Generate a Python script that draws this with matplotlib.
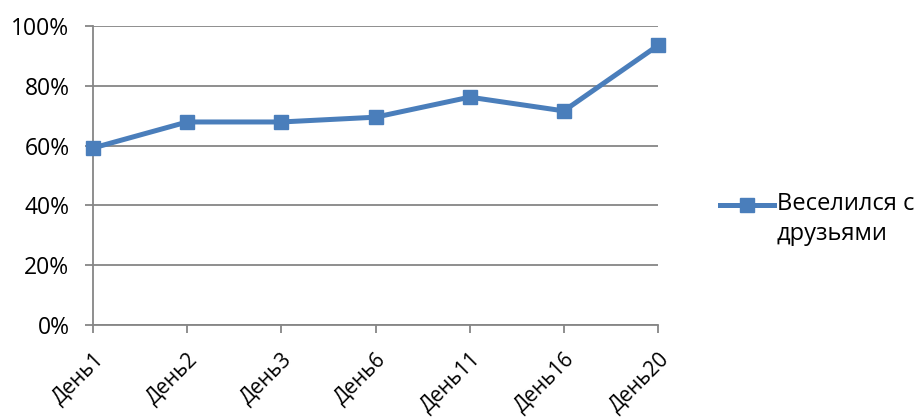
import matplotlib.pyplot as plt
from matplotlib.ticker import PercentFormatter
from matplotlib.transforms import ScaledTranslation

# Dati
giorni = ["День1", "День2", "День3", "День6", "День11", "День16", "День20"]
valori = [59.2, 67.9, 67.9, 69.5, 76.2, 71.6, 93.5]
serie = "Веселился с\nдрузьями"

plt.rcParams['font.family'] = ['Open Sans', 'DejaVu Sans']

fig = plt.figure(figsize=(9.18, 4.19), dpi=100)
ax = fig.add_axes([0.1013, 0.2243, 0.6155, 0.7137])

colore = '#4a7ebb'
ax.plot(range(len(giorni)), valori, color=colore, linewidth=3.6,
        marker='s', markersize=10, label=serie, clip_on=False, zorder=3)

ax.set_xlim(0, len(giorni) - 1)
ax.set_ylim(0, 100)
ax.set_yticks(range(0, 101, 20))
ax.yaxis.set_major_formatter(PercentFormatter(decimals=0))
ax.set_xticks(range(len(giorni)))
ax.set_xticklabels(giorni, rotation=45, ha='right', va='top',
                   rotation_mode='anchor', fontsize=15)
# sposta le etichette un po' a destra come in Excel
sposta = ScaledTranslation(0.08, 0, fig.dpi_scale_trans)
for lab in ax.get_xticklabels():
    lab.set_transform(lab.get_transform() + sposta)

ax.grid(axis='y', color='#868686', linewidth=1.3)
ax.set_axisbelow(True)
for s in ['top', 'right']:
    ax.spines[s].set_visible(False)
for s in ['left', 'bottom']:
    ax.spines[s].set_color('#868686')
    ax.spines[s].set_linewidth(1.3)
ax.tick_params(axis='both', color='#868686', length=6, width=1.3)
ax.tick_params(axis='y', labelsize=16.5, pad=11)
ax.tick_params(axis='x', pad=11)

# handleheight alto: la linea della legenda sta all'altezza della prima riga
ax.legend(loc='center left', bbox_to_anchor=(0.784, 0.47),
          bbox_transform=fig.transFigure, frameon=False,
          prop={'size': 17}, handlelength=2.3, handletextpad=0.12,
          handleheight=4.9, borderaxespad=0, borderpad=0)
for t in ax.get_legend().get_texts():
    t.set_linespacing(1.35)

fig.savefig("out.png", dpi=100)
